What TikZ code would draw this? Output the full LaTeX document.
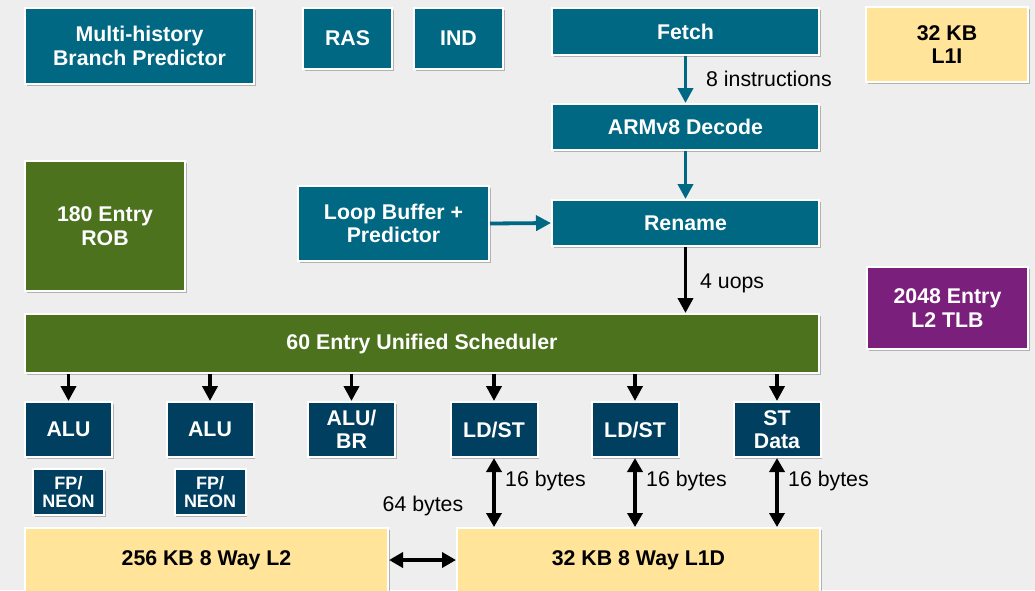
\documentclass[tikz,border=0pt]{standalone}
\usepackage{fontspec}
\setmainfont{Liberation Sans}
\usetikzlibrary{arrows.meta,shadows}
\definecolor{bgc}{HTML}{EEEEEE}
\definecolor{tealc}{HTML}{006882}
\definecolor{darkc}{HTML}{003F5F}
\definecolor{greenc}{HTML}{4C721E}
\definecolor{purplec}{HTML}{7B1F7C}
\definecolor{yellowc}{HTML}{FFE49A}
\tikzset{
  blk/.style={draw=white, line width=2pt, inner sep=0pt, align=center,
    font=\fontsize{21.3}{23.5}\selectfont\bfseries,
    drop shadow={shadow xshift=1.5pt, shadow yshift=-1.5pt, opacity=0.25, fill=black}},
  tealbox/.style={blk, fill=tealc, text=white},
  darkbox/.style={blk, fill=darkc, text=white},
  greenbox/.style={blk, fill=greenc, text=white},
  purplebox/.style={blk, fill=purplec, text=white},
  yellowbox/.style={blk, fill=yellowc, text=black},
  small/.style={font=\fontsize{18}{18}\selectfont\bfseries},
  tarr/.style={draw=tealc, line width=3.8pt, -{Triangle[width=15pt,length=15pt]}},
  barr/.style={draw=black, line width=3.8pt, -{Triangle[width=15pt,length=15pt]}},
  darr/.style={draw=black, line width=4.5pt, {Triangle[width=15pt,length=14pt]}-{Triangle[width=15pt,length=14pt]}},
  lbl/.style={font=\fontsize{21.3}{23.5}\selectfont, text=black, inner sep=0pt}
}
\begin{document}
\begin{tikzpicture}[x=1pt,y=-1pt]
\fill[bgc] (0,0) rectangle (1035,590);
\useasboundingbox (0,0) rectangle (1035,590);

\node[tealbox, minimum width=229pt, minimum height=76pt] (mhbp) at (139.5,46) {Multi-history\\Branch Predictor};
\node[tealbox, minimum width=89pt, minimum height=61pt] (ras) at (347.5,38.5) {RAS};
\node[tealbox, minimum width=89pt, minimum height=61pt] (ind) at (458.5,38.5) {IND};
\node[tealbox, minimum width=267pt, minimum height=47pt] (fetch) at (685.5,31.5) {Fetch};
\node[yellowbox, minimum width=162pt, minimum height=75pt] (l1i) at (947,44.5) {32 KB\\L1I};
\node[tealbox, minimum width=267pt, minimum height=46pt] (decode) at (685.5,127) {ARMv8 Decode};
\node[greenbox, minimum width=160pt, minimum height=130pt] (rob) at (105,226) {180 Entry\\ROB};
\node[tealbox, minimum width=191pt, minimum height=75pt] (loop) at (393.5,223.5) {Loop Buffer +\\Predictor};
\node[tealbox, minimum width=267pt, minimum height=46pt] (rename) at (685.5,223) {Rename};
\node[purplebox, minimum width=161pt, minimum height=82pt] (tlb) at (947.5,308) {2048 Entry\\L2 TLB};
\node[greenbox, minimum width=794pt, minimum height=59pt] (sched) at (422,343.5) {60 Entry Unified Scheduler};

\node[darkbox, minimum width=87pt, minimum height=55pt] (alu1) at (68.5,429.5) {ALU};
\node[darkbox, minimum width=87pt, minimum height=55pt] (alu2) at (210,429.5) {ALU};
\node[darkbox, minimum width=87pt, minimum height=55pt] (alubr) at (351.5,429.5) {ALU/\\BR};
\node[darkbox, minimum width=87pt, minimum height=55pt] (ldst1) at (494,429.5) {LD/ST};
\node[darkbox, minimum width=87pt, minimum height=55pt] (ldst2) at (635,429.5) {LD/ST};
\node[darkbox, minimum width=87pt, minimum height=55pt] (std) at (777,429.5) {ST\\Data};

\node[darkbox, small, minimum width=71pt, minimum height=46pt] (fp1) at (68.5,492) {FP/\\NEON};
\node[darkbox, small, minimum width=71pt, minimum height=46pt] (fp2) at (210,492) {FP/\\NEON};

\node[yellowbox, minimum width=363pt, minimum height=64pt] (l2) at (206.5,560) {256 KB 8 Way L2};
\node[yellowbox, minimum width=363pt, minimum height=64pt] (l1d) at (638.5,560) {32 KB 8 Way L1D};

% front end
\draw[tarr] (fetch.south) -- (decode.north);
\node[lbl, anchor=west] (l8) at (706,79) {8 instructions};
\draw[tarr] (decode.south) -- (rename.north);
\draw[tarr] (loop.east) -- (rename.west);
\draw[barr] (rename.south) -- (sched.north -| rename.south);
\node[lbl, anchor=west] (l4) at (700,283) {4 uops};

% issue
\foreach \u in {alu1,alu2,alubr,ldst1,ldst2,std}
  \draw[barr] (sched.south -| \u.north) -- (\u.north);

% memory
\foreach \u in {ldst1,ldst2,std}
  \draw[darr] (\u.south) -- (\u.south |- l1d.north);
\node[lbl, anchor=west] (b1) at (505,481) {16 bytes};
\node[lbl, anchor=west] (b2) at (646,481) {16 bytes};
\node[lbl, anchor=west] (b3) at (788,481) {16 bytes};
\draw[darr] (l2.east) -- (l1d.west);
\node[lbl] (b64) at (423,506) {64 bytes};
\end{tikzpicture}
\end{document}
